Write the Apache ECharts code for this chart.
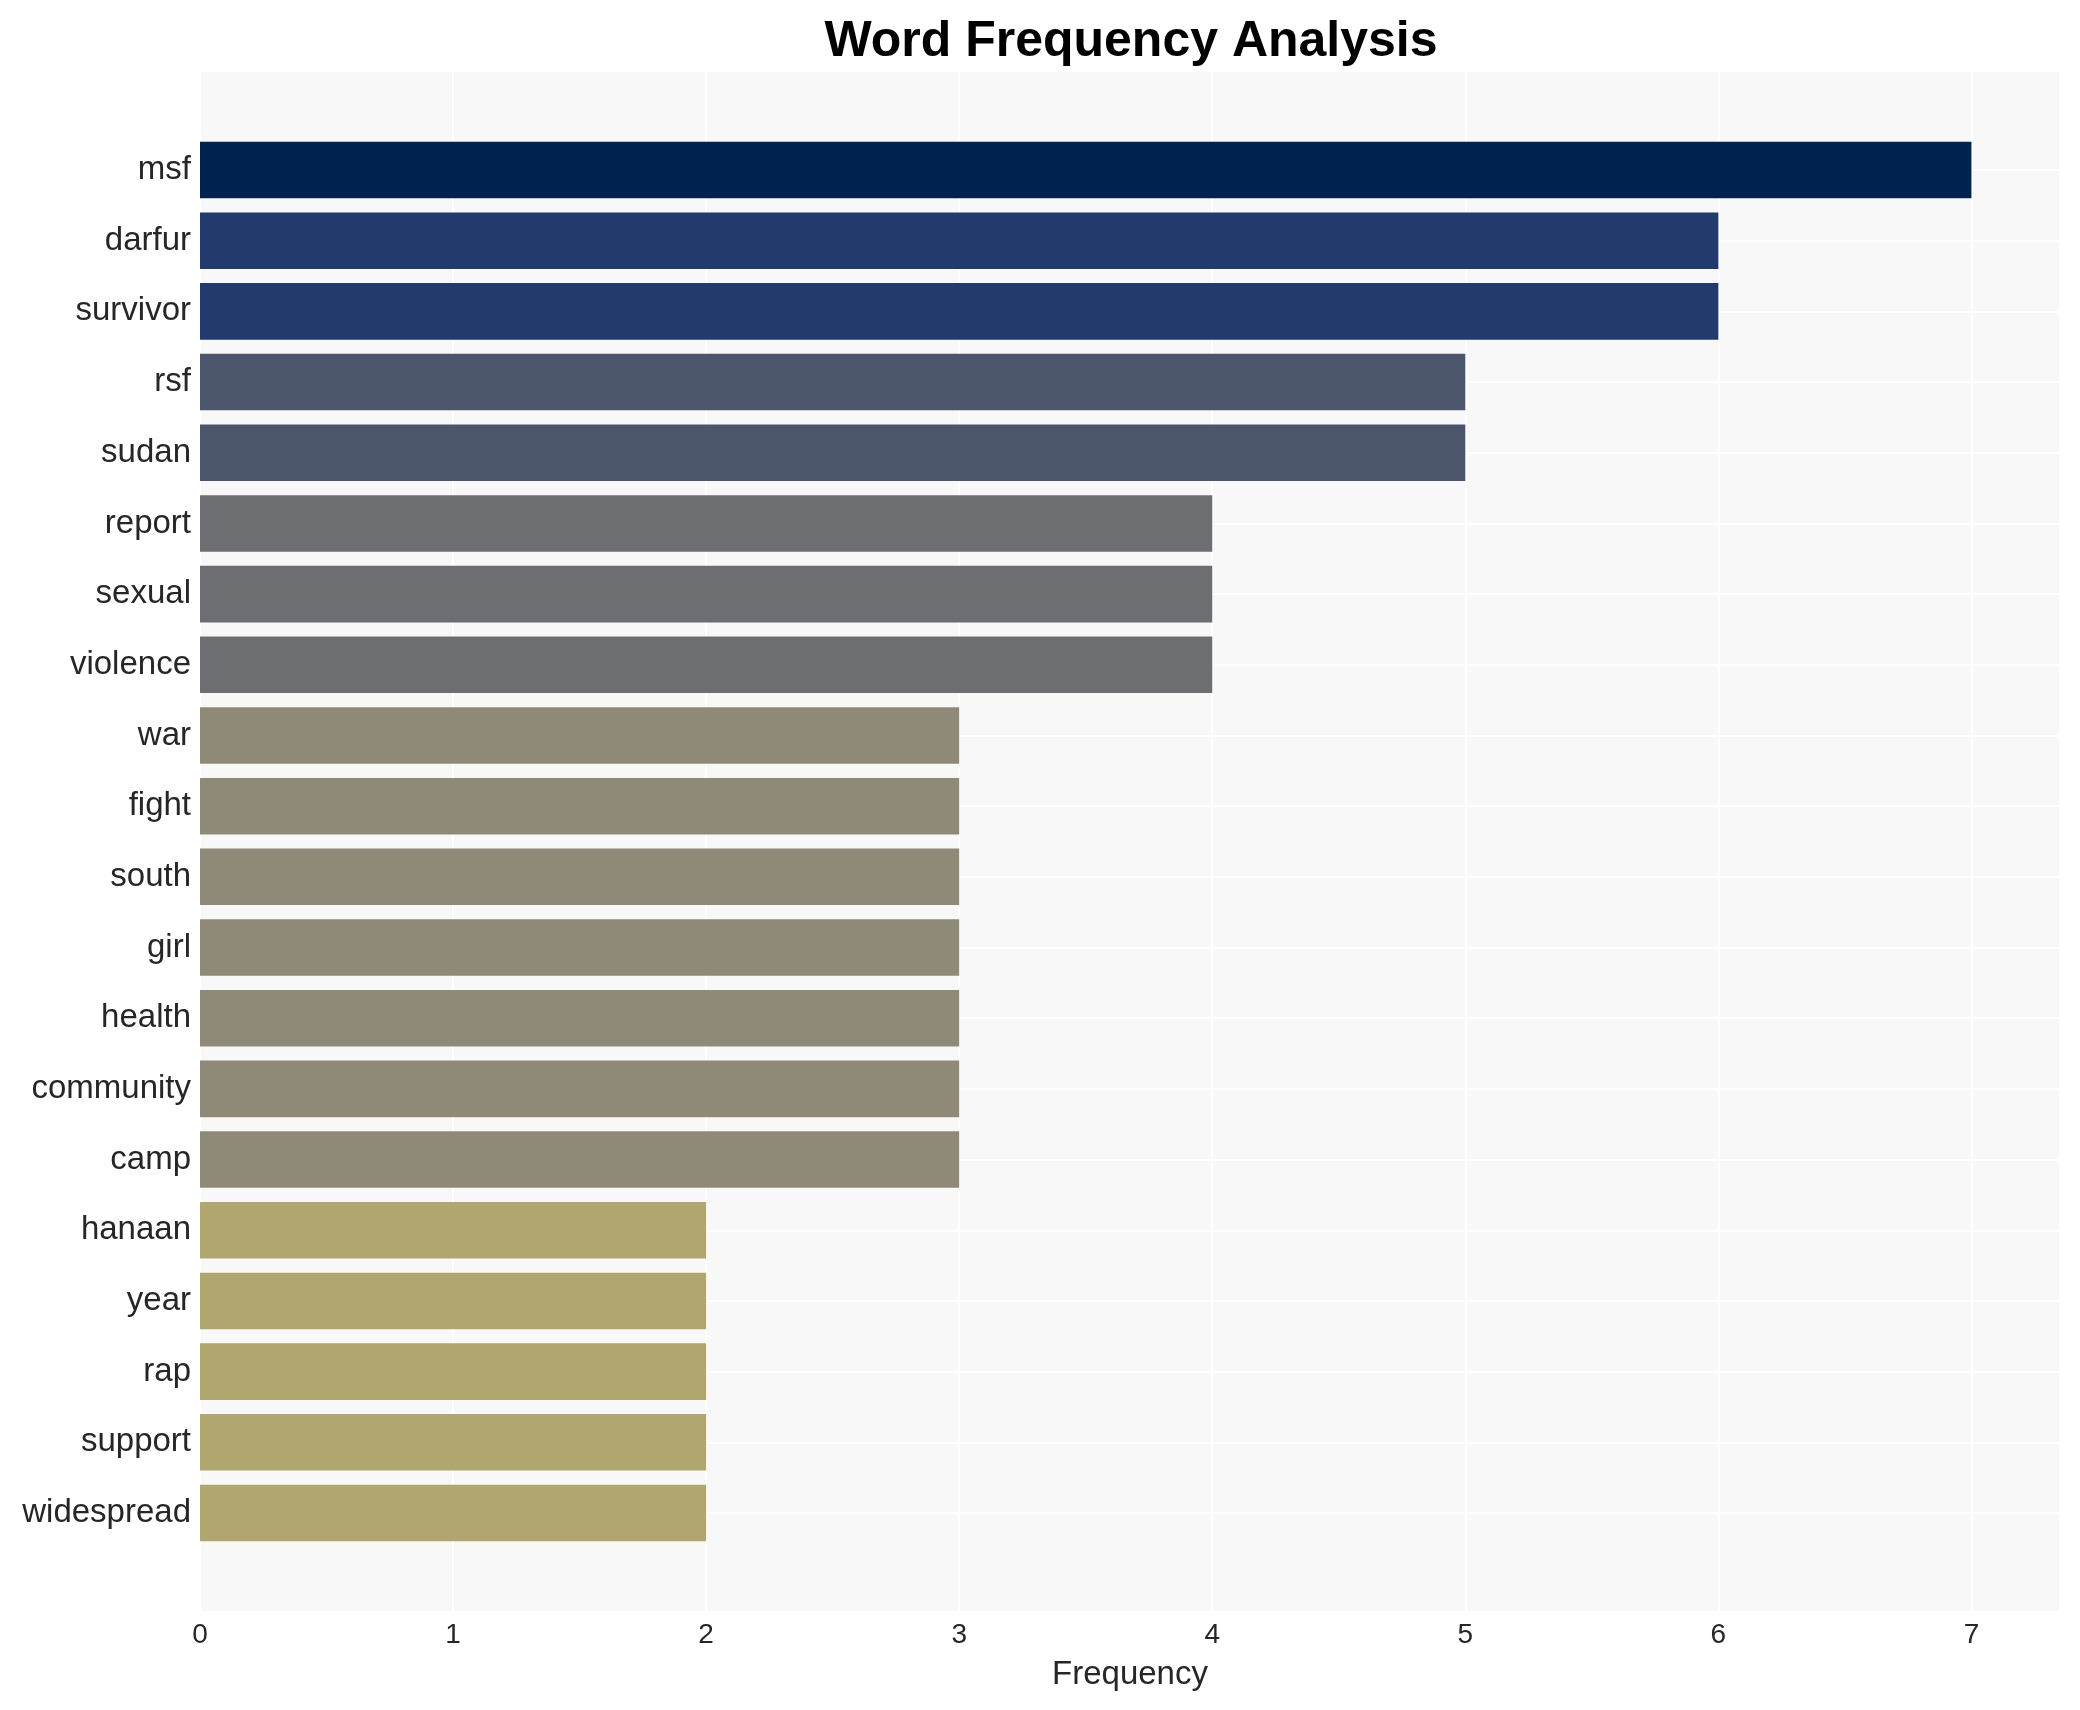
<!DOCTYPE html>
<html>
<head>
<meta charset="utf-8">
<script src="https://cdn.jsdelivr.net/npm/echarts@6/dist/echarts.min.js"></script>
<style>
  html, body { margin: 0; padding: 0; background: #ffffff; }
  #chart { width: 2080px; height: 1710px; }
</style>
</head>
<body>
<div id="chart"></div>
<script>
const words = ['msf','darfur','survivor','rsf','sudan','report','sexual','violence','war','fight','south','girl','health','community','camp','hanaan','year','rap','support','widespread'];
const counts = [7,6,6,5,5,4,4,4,3,3,3,3,3,3,3,2,2,2,2,2];
const xTicks = [0,1,2,3,4,5,6,7];
const xMax = 7.35;

const palette = { 7: '#00224e', 6: '#223a6c', 5: '#4b556c', 4: '#6d6e72', 3: '#8f8a78', 2: '#b0a66f' };

const chart = echarts.init(document.getElementById('chart'), null, { renderer: 'canvas' });
const FONT = '"Liberation Sans", Arial, sans-serif';

const option = {
  backgroundColor: '#ffffff',
  animation: false,
  title: {
    text: 'Word Frequency Analysis',
    left: 1126, top: 12, textAlign: 'center',
    textStyle: { fontFamily: FONT, fontWeight: 'bold', fontSize: 50, color: '#000000' }
  },
  grid: [
    { left: 200, right: 20, top: 72, bottom: 99, show: true, backgroundColor: '#f8f8f8', borderWidth: 0 },
    { left: 200, right: 20, top: 170, bottom: 197, show: false }
  ],
  xAxis: [
    {
      gridIndex: 0, type: 'value', min: 0, max: xMax, interval: 1,
      name: 'Frequency', nameLocation: 'middle', nameGap: 47,
      nameTextStyle: { fontFamily: FONT, fontSize: 33, color: '#262626' },
      axisLine: { show: false }, axisTick: { show: false },
      axisLabel: {
        fontFamily: FONT, fontSize: 28, color: '#262626', margin: 10,
        showMaxLabel: false,
        formatter: v => (xTicks.indexOf(v) >= 0 ? String(v) : '')
      },
      splitLine: { show: true, lineStyle: { color: '#ffffff', width: 2 } }
    },
    {
      gridIndex: 1, type: 'value', min: 0, max: xMax, interval: 1, show: false,
      splitLine: { show: false }
    }
  ],
  yAxis: [
    {
      gridIndex: 0, type: 'value', min: 0, max: 1, show: false, splitLine: { show: false }
    },
    {
      gridIndex: 1, type: 'category', data: words, inverse: true, boundaryGap: false,
      axisLine: { show: false }, axisTick: { show: false },
      axisLabel: { fontFamily: FONT, fontSize: 33, color: '#262626', margin: 9, interval: 0, padding: [9, 0, 0, 0] },
      splitLine: { show: true, interval: 0, lineStyle: { color: '#ffffff', width: 2 } }
    }
  ],
  series: [{
    type: 'bar',
    xAxisIndex: 1, yAxisIndex: 1,
    clip: false,
    barWidth: '80%',
    data: counts.map(v => ({ value: v, itemStyle: { color: palette[v] } }))
  }]
};
chart.setOption(option);
</script>
</body>
</html>
